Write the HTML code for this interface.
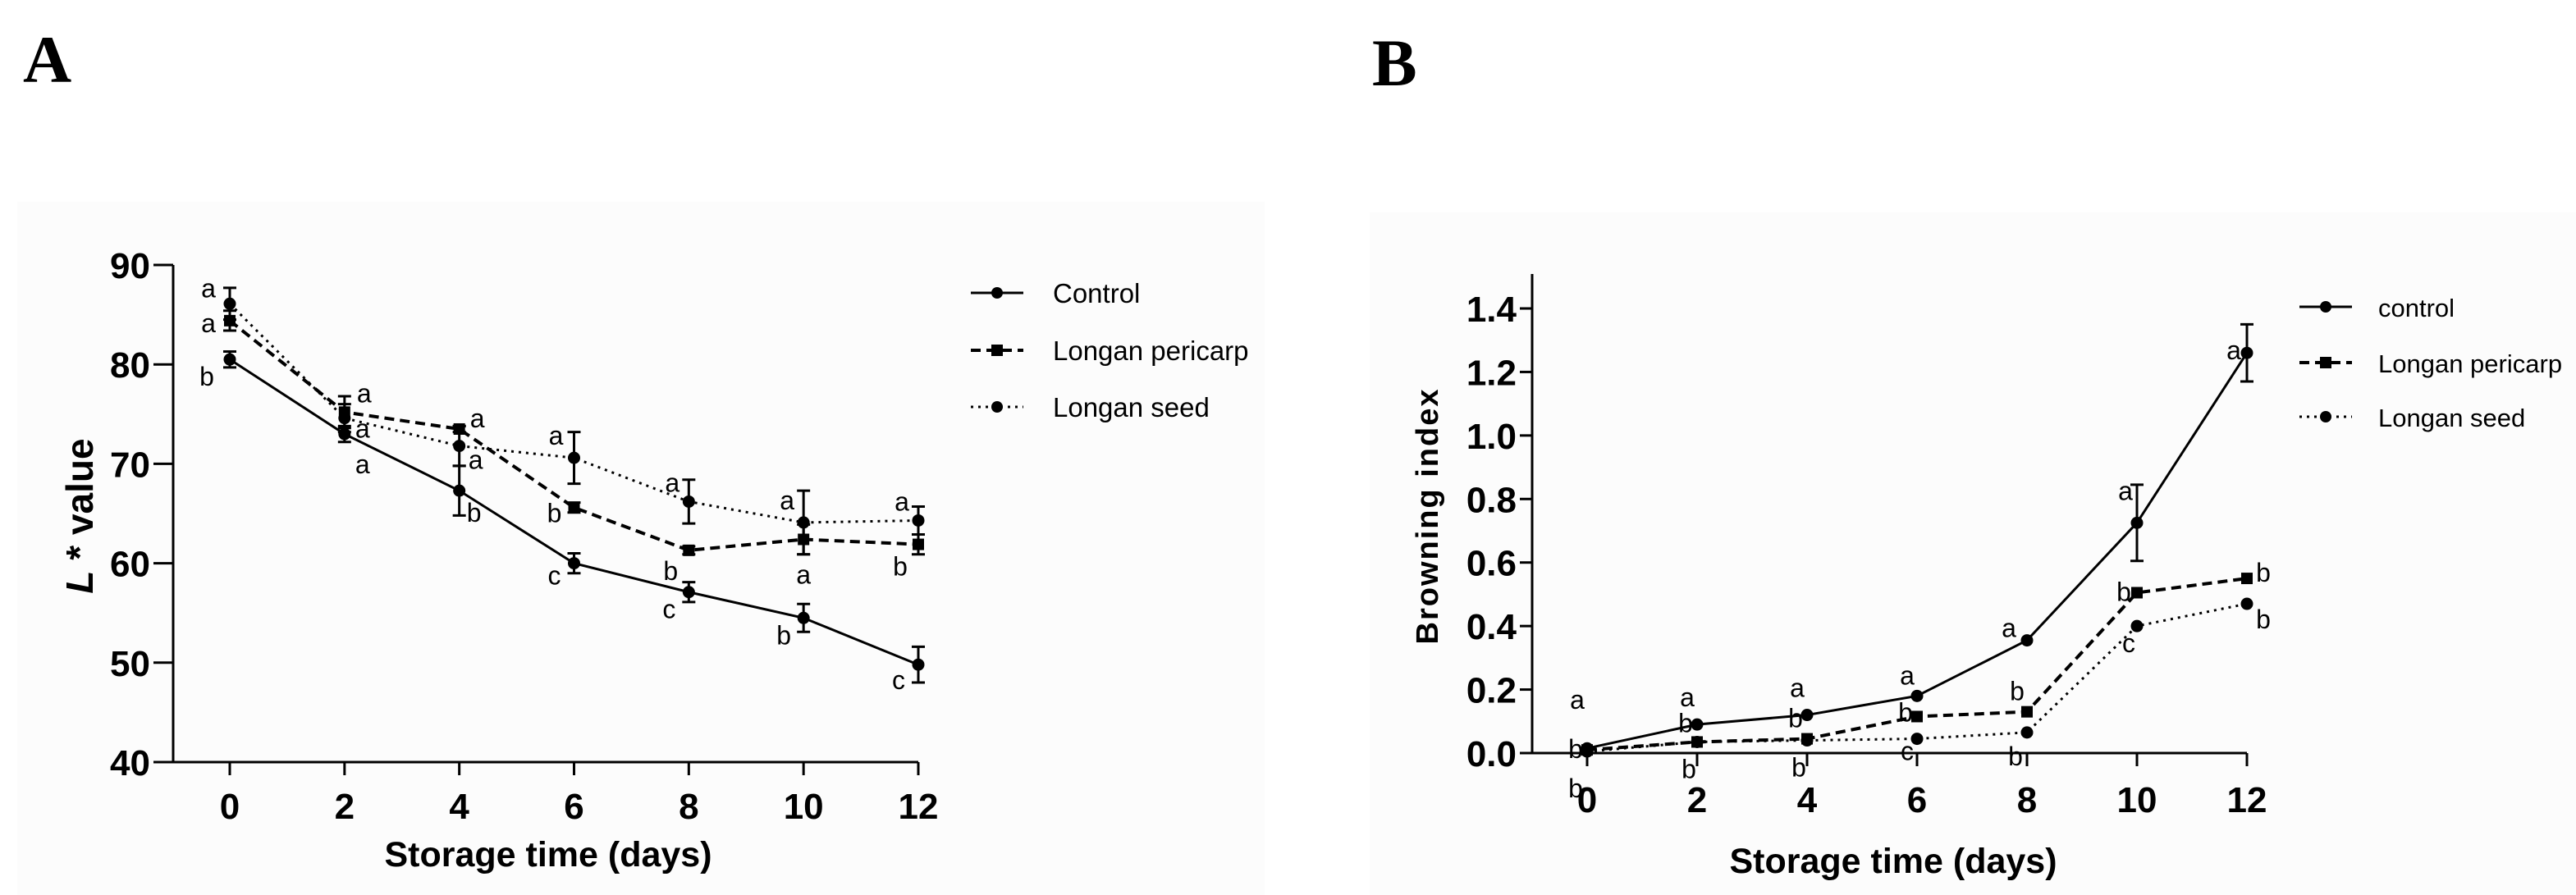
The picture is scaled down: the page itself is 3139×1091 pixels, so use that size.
<!DOCTYPE html>
<html><head><meta charset="utf-8">
<style>
html,body{margin:0;padding:0;background:#fff;}
svg{display:block;}
text{font-family:"Liberation Sans",Arial,sans-serif;}
text.serif{font-family:"Liberation Serif",serif;}
</style></head>
<body>
<svg id="fig" width="3139" height="1091" viewBox="0 0 3139 1091" xmlns="http://www.w3.org/2000/svg">
<rect x="21" y="246" width="1520" height="845" fill="#fcfcfc"/>
<rect x="1669" y="259" width="1470" height="832" fill="#fcfcfc"/>
<text class="serif" x="28" y="100" font-weight="bold" font-size="82">A</text>
<text class="serif" x="1672" y="104" font-weight="bold" font-size="82">B</text>
<g id="panelA"></g>
<g id="panelB"></g>
</svg>
<script>
// ---------- Panel A data ----------
const daysA = [0,2,4,6,8,10,12];
const ctrlA = [80.5,73.0,67.3,60.0,57.1,54.5,49.8];
const ctrlAErr = [0.8,0.8,2.5,1.0,1.0,1.4,1.8];
const periA = [84.4,75.2,73.5,65.6,61.3,62.4,61.9];
const periAErr = [1.0,1.6,0.3,0.5,0.4,1.5,1.0];
const seedA = [86.1,74.6,71.8,70.6,66.2,64.1,64.3];
const seedAErr = [1.6,1.4,2.0,2.6,2.2,3.2,1.4];
const ctrlALetters = ['b','a','b','c','c','b','c'];
const periALetters = ['a','a','a','b','b','a','b'];
const seedALetters = ['a','a','a','a','a','a','a'];
const yTicksA = [40,50,60,70,80,90];
const xTicksA = [0,2,4,6,8,10,12];
const legendA = ['Control','Longan pericarp','Longan seed'];

// ---------- Panel B data ----------
const daysB = [0,2,4,6,8,10,12];
const ctrlB = [0.015,0.09,0.12,0.18,0.355,0.725,1.26];
const ctrlBErr = [0,0,0,0,0,0.12,0.09];
const periB = [0.01,0.035,0.045,0.115,0.13,0.505,0.55];
const periBErr = [0,0,0,0,0,0,0];
const seedB = [0.005,0.035,0.04,0.045,0.065,0.40,0.47];
const seedBErr = [0,0,0,0,0,0,0];
const ctrlBLetters = ['a','a','a','a','a','a','a'];
const periBLetters = ['b','b','b','b','b','b','b'];
const seedBLetters = ['b','b','b','c','b','c','b'];
const yTicksB = [0.0,0.2,0.4,0.6,0.8,1.0,1.2,1.4];
const xTicksB = [0,2,4,6,8,10,12];
const legendB = ['control','Longan pericarp','Longan seed'];

const NS='http://www.w3.org/2000/svg';
function mk(parent,tag,attrs,txt){const e=document.createElementNS(NS,tag);for(const k in attrs)e.setAttribute(k,attrs[k]);if(txt!==undefined)e.textContent=txt;parent.appendChild(e);return e;}

// layout (label offsets in px, not data)
const offA = {
  ctrl:[[-28,32],[22,48],[18,38],[-24,26],[-24,32],[-24,32],[-24,30]],
  peri:[[-26,14],[24,-12],[22,-2],[-24,18],[-22,36],[0,54],[-22,38]],
  seed:[[-26,-8],[22,24],[20,28],[-22,-16],[-20,-12],[-20,-16],[-20,-12]]
};
const offB = {
  ctrl:[[-12,-48],[-12,-22],[-12,-22],[-12,-14],[-22,-4],[-14,-28],[-16,8]],
  peri:[[-14,10],[-14,-12],[-14,-14],[-14,6],[-12,-14],[-16,10],[20,4]],
  seed:[[-14,56],[-10,44],[-10,44],[-12,26],[-14,40],[-10,32],[20,30]]
};

function drawPanel(g,cfg){
  const X=v=>cfg.x0+(v-cfg.xmin)*(cfg.x1-cfg.x0)/(cfg.xmax-cfg.xmin);
  const Y=v=>cfg.y0-(v-cfg.ymin)*(cfg.y0-cfg.y1)/(cfg.ymax-cfg.ymin);
  const ya=mk(g,'line',{x1:cfg.yAxisX,y1:cfg.yAxisTop,x2:cfg.yAxisX,y2:cfg.y0,stroke:'#000','stroke-width':3});
  
  
  const xa=mk(g,'line',{x1:cfg.xAxisStart,y1:cfg.y0,x2:X(cfg.xmax),y2:cfg.y0,stroke:'#000','stroke-width':3});
  
  
  cfg.yTicks.forEach(t=>{
    const tl=mk(g,'line',{x1:cfg.yAxisX-cfg.tickLen,y1:Y(t),x2:cfg.yAxisX,y2:Y(t),stroke:'#000','stroke-width':3});
    
    
    const tx=mk(g,'text',{x:cfg.yAxisX-cfg.tickLen-4,y:Y(t)+16,'text-anchor':'end','font-size':44,'font-weight':'bold'},cfg.yFmt(t));
    
    
  });
  cfg.xTicks.forEach(t=>{
    const tl=mk(g,'line',{x1:X(t),y1:cfg.y0,x2:X(t),y2:cfg.y0+16,stroke:'#000','stroke-width':3});
    
    
    const tx=mk(g,'text',{x:X(t),y:cfg.xLabelY,'text-anchor':'middle','font-size':44,'font-weight':'bold'},String(t));
    
    
  });
  const xt=mk(g,'text',{x:cfg.xTitleX,y:cfg.xTitleY,'text-anchor':'middle','font-size':43,'font-weight':'bold'},'Storage time (days)');
  
  
  const ytt=mk(g,'text',{x:0,y:0,'text-anchor':'middle','font-size':cfg.yTitleSize,'font-weight':'bold',transform:`translate(${cfg.yTitleX},${cfg.yTitleY}) rotate(-90)`,'letter-spacing':cfg.yTitleLS});
  
  
  if(cfg.italicL){
    mk(ytt,'tspan',{'font-style':'italic'},'L');
    mk(ytt,'tspan',{},' * value');
  } else ytt.textContent=cfg.yTitle;

  cfg.series.forEach((s,si)=>{
    const sg=mk(g,'g',{});
    
    
    const pts=cfg.days.map((d,i)=>X(d)+','+Y(s.vals[i])).join(' ');
    const pl=mk(sg,'polyline',{points:pts,fill:'none',stroke:'#000','stroke-width':s.width,'stroke-dasharray':s.dash});
    
    
    cfg.days.forEach((d,i)=>{
      const cx=X(d),cy=Y(s.vals[i]),e=s.err[i];
      if(e>0){
        const eb=mk(sg,'path',{d:`M${cx},${Y(s.vals[i]+e)}V${Y(s.vals[i]-e)}M${cx-8},${Y(s.vals[i]+e)}h16M${cx-8},${Y(s.vals[i]-e)}h16`,stroke:'#000','stroke-width':3,fill:'none'});
        
        
      }
      let m;
      if(s.marker==='square') m=mk(sg,'rect',{x:cx-7,y:cy-7,width:14,height:14,fill:'#000'});
      else m=mk(sg,'circle',{cx:cx,cy:cy,r:7.5,fill:'#000'});
      
      
      const o=s.off[i];
      const lt=mk(sg,'text',{x:cx+o[0],y:cy+o[1],'text-anchor':'middle','font-size':32},s.letters[i]);
      
      
    });
    const ly=cfg.legendY[si];
    const le=mk(g,'g',{});
    
    
    mk(le,'line',{x1:cfg.legendX,y1:ly,x2:cfg.legendX+64,y2:ly,stroke:'#000','stroke-width':s.width,'stroke-dasharray':s.dash});
    if(s.marker==='square') mk(le,'rect',{x:cfg.legendX+25,y:ly-7,width:14,height:14,fill:'#000'});
    else mk(le,'circle',{cx:cfg.legendX+32,cy:ly,r:7,fill:'#000'});
    mk(le,'text',{x:cfg.legendX+cfg.legendGap,y:ly+12,'font-size':cfg.legendSize},cfg.legend[si]);
  });
}

drawPanel(document.getElementById('panelA'),{
  xmin:0,xmax:12,x0:280,x1:1119,ymin:40,ymax:90,y0:929,y1:323,
  yAxisX:211,yAxisTop:323,xAxisStart:211,tickLen:24,xLabelY:998,
  yTicks:yTicksA,xTicks:xTicksA,yFmt:t=>String(t),
  xTitleX:668,xTitleY:1056,yTitleX:113,yTitleY:629,yTitleSize:46,yTitleLS:0,italicL:true,
  days:daysA,legend:legendA,legendX:1183,legendY:[357,427,496],legendGap:100,legendSize:33,
  series:[
    {key:'control',vals:ctrlA,err:ctrlAErr,letters:ctrlALetters,off:offA.ctrl,marker:'circle',dash:'',width:3},
    {key:'longan-pericarp',vals:periA,err:periAErr,letters:periALetters,off:offA.peri,marker:'square',dash:'12,7',width:4},
    {key:'longan-seed',vals:seedA,err:seedAErr,letters:seedALetters,off:offA.seed,marker:'circle',dash:'3,6',width:3}
  ]
});
drawPanel(document.getElementById('panelB'),{
  xmin:0,xmax:12,x0:1934,x1:2738,ymin:0,ymax:1.4,y0:918,y1:376,
  yAxisX:1867,yAxisTop:334,xAxisStart:1852,tickLen:15,xLabelY:990,
  yTicks:yTicksB,xTicks:xTicksB,yFmt:t=>t.toFixed(1),
  xTitleX:2307,xTitleY:1064,yTitleX:1752,yTitleY:629,yTitleSize:38,yTitleLS:2,italicL:false,yTitle:'Browning index',
  days:daysB,legend:legendB,legendX:2802,legendY:[374,442,508],legendGap:96,legendSize:31,
  series:[
    {key:'control',vals:ctrlB,err:ctrlBErr,letters:ctrlBLetters,off:offB.ctrl,marker:'circle',dash:'',width:3},
    {key:'longan-pericarp',vals:periB,err:periBErr,letters:periBLetters,off:offB.peri,marker:'square',dash:'12,7',width:4},
    {key:'longan-seed',vals:seedB,err:seedBErr,letters:seedBLetters,off:offB.seed,marker:'circle',dash:'3,6',width:3}
  ]
});
</script>
</body></html>
